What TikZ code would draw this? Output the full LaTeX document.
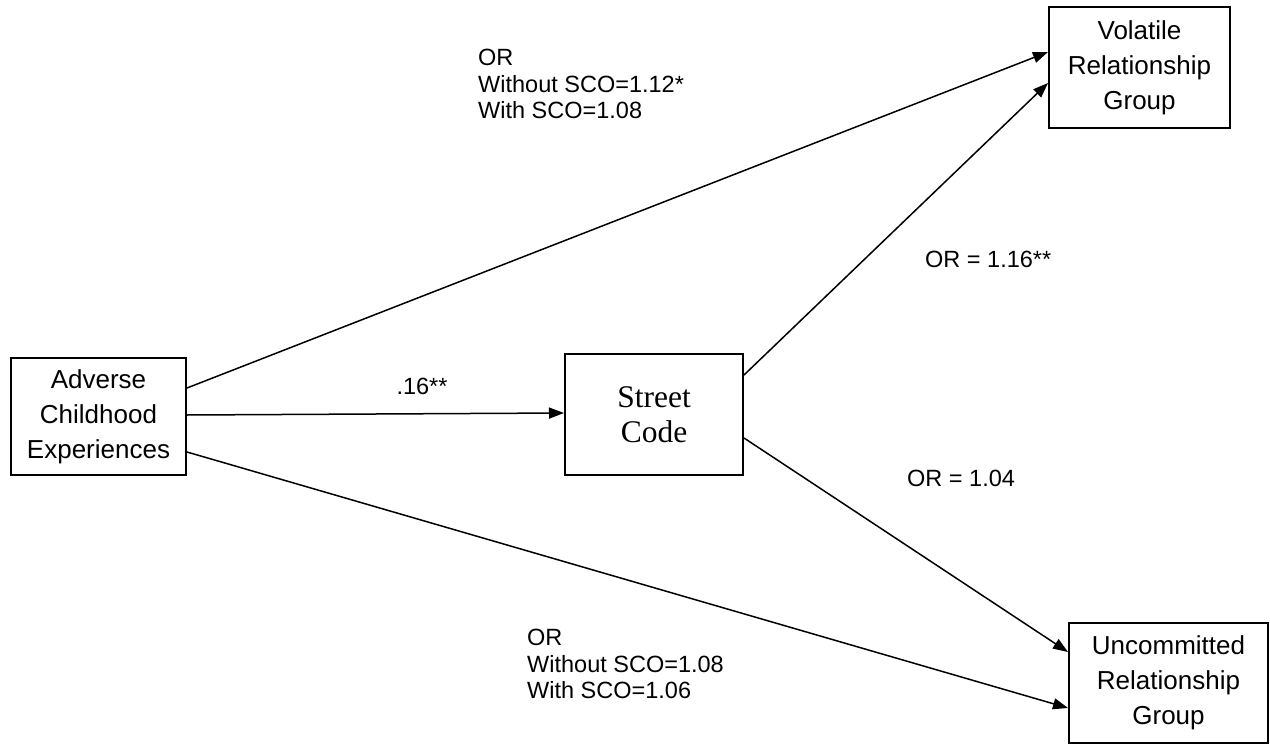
\documentclass[tikz,border=0pt]{standalone}
\usepackage{fontspec}
\setmainfont{Liberation Sans}
\newfontfamily\timesfont{Liberation Serif}
\usetikzlibrary{arrows.meta}
\tikzset{
  boxnode/.style={draw, line width=2pt, inner sep=0pt, align=center,
    font=\fontsize{26}{35}\selectfont},
  lbl/.style={inner sep=0pt, align=left, anchor=west,
    font=\fontsize{23.5}{26.5}\selectfont},
  conn/.style={line width=1.5pt, -{Triangle[length=15pt,width=11pt]}}
}
\begin{document}
\begin{tikzpicture}[x=1pt,y=-1pt]
\useasboundingbox (0,0) rectangle (1270,744);
\fill[white] (0,0) rectangle (1270,744);
\node[boxnode, minimum width=175pt, minimum height=117pt] (ace) at (98.5,416.5) {Adverse\\Childhood\\Experiences};
\node[boxnode, minimum width=178pt, minimum height=121pt, font=\timesfont\fontsize{31.5}{35}\selectfont] (sc) at (654,414.5) {Street\\Code};
\node[boxnode, minimum width=181pt, minimum height=121pt] (vol) at (1139.5,67.5) {Volatile\\Relationship\\Group};
\node[boxnode, minimum width=199pt, minimum height=120pt] (unc) at (1168.5,683) {Uncommitted\\Relationship\\Group};

\draw[conn] ([yshift=28.5pt]ace.east) -- ([yshift=15.5pt]vol.west);
\draw[conn] ([yshift=1.5pt]ace.east) -- ([yshift=1.5pt]sc.west);
\draw[conn] ([yshift=-35.5pt]ace.east) -- ([yshift=-25pt]unc.west);
\draw[conn] ([yshift=39.5pt]sc.east) -- ([yshift=-15.5pt]vol.west);
\draw[conn] ([yshift=-23.5pt]sc.east) -- ([yshift=31pt]unc.west);

\node[lbl] (l1) at (478,84) {OR\\Without SCO=1.12*\\With SCO=1.08};
\node[lbl, anchor=center] (l2) at (422,386) {.16**};
\node[lbl] (l3) at (925,259) {OR = 1.16**};
\node[lbl] (l4) at (907,478) {OR = 1.04};
\node[lbl] (l5) at (527,664) {OR\\Without SCO=1.08\\With SCO=1.06};
\end{tikzpicture}
\end{document}
